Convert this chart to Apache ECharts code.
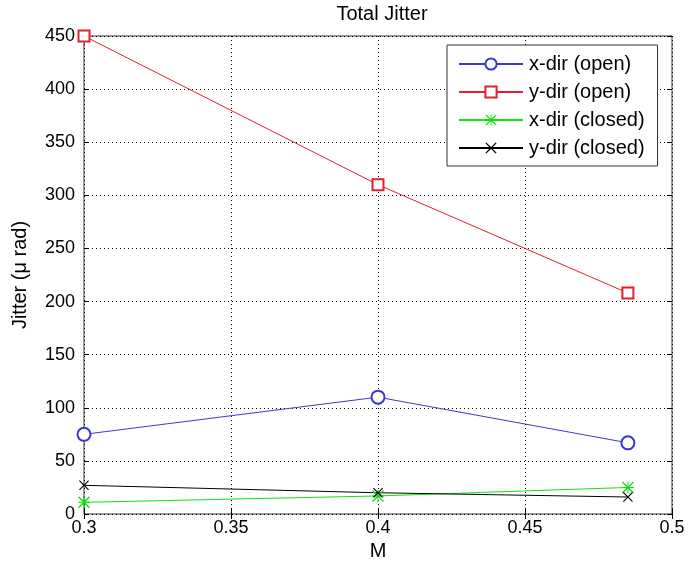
<!DOCTYPE html>
<html>
<head>
<meta charset="utf-8">
<script src="https://cdn.jsdelivr.net/npm/echarts@6/dist/echarts.min.js"></script>
<style>
  html, body { margin: 0; padding: 0; background: #fff; }
  #echarts { width: 691px; height: 571px; }
</style>
</head>
<body>
<div id="echarts"></div>
<script>
// M 取值 (x 轴)
var mValues = [0.3, 0.4, 0.485];
var xDirOpen = [75, 110, 67];
var yDirOpen = [450, 310, 208];
var xDirClosed = [11, 17, 25];
var yDirClosed = [27, 20, 16];
var seriesNames = ['x-dir (open)', 'y-dir (open)', 'x-dir (closed)', 'y-dir (closed)'];

var xMarker = 'path://M0,0.08 L0.08,0 L0.5,0.42 L0.92,0 L1,0.08 L0.58,0.5 L1,0.92 L0.92,1 L0.5,0.58 L0.08,1 L0,0.92 L0.42,0.5 Z';
var starMarker = xMarker + ' M0.46,0 L0.54,0 L0.54,1 L0.46,1 Z M0,0.46 L1,0.46 L1,0.54 L0,0.54 Z';

function pairs(vals) {
  return mValues.map(function (m, i) { return [m, vals[i]]; });
}

var myChart = echarts.init(document.getElementById('echarts'));
var font = 'Liberation Sans, Arial, sans-serif';

var option = {
  animation: false,
  backgroundColor: '#fff',
  title: {
    text: 'Total Jitter',
    left: 377,
    top: -1,
    textAlign: 'center',
    textStyle: { fontFamily: font, fontSize: 20, fontWeight: 'normal', color: '#000' }
  },
  grid: { left: 84, right: 19, top: 36, bottom: 57, show: true, borderColor: '#333', borderWidth: 1, backgroundColor: '#fff' },
  legend: {
    orient: 'vertical',
    left: 447,
    top: 45,
    padding: [9, 13, 8, 11],
    itemWidth: 64,
    itemHeight: 14,
    itemGap: 8,
    backgroundColor: '#fff',
    borderColor: '#333',
    borderWidth: 1,
    textStyle: { fontFamily: font, fontSize: 20, lineHeight: 20, color: '#000', padding: [0, 0, 0, 1] },
    data: seriesNames
  },
  xAxis: [
    {
      type: 'value',
      min: 0.3, max: 0.5, interval: 0.05,
      name: 'M',
      nameLocation: 'middle',
      nameGap: 27,
      nameTextStyle: { fontFamily: font, fontSize: 20, color: '#000' },
      axisLine: { show: false },
      axisTick: { inside: true, length: 5, lineStyle: { color: '#000' } },
      axisLabel: { fontFamily: font, fontSize: 18, color: '#000', margin: 5 },
      splitLine: { show: true, lineStyle: { type: [1, 3], color: '#000' } }
    },
    {
      type: 'value', position: 'top',
      min: 0.3, max: 0.5, interval: 0.05,
      axisLine: { show: false },
      axisTick: { inside: true, length: 5, lineStyle: { color: '#000' } },
      axisLabel: { show: false },
      splitLine: { show: false }
    }
  ],
  yAxis: [
    {
      type: 'value',
      min: 0, max: 450, interval: 50,
      name: 'Jitter (\u03bc rad)',
      nameLocation: 'middle',
      nameGap: 54,
      nameTextStyle: { fontFamily: font, fontSize: 20, color: '#000' },
      axisLine: { show: false },
      axisTick: { inside: true, length: 5, lineStyle: { color: '#000' } },
      axisLabel: { fontFamily: font, fontSize: 18, color: '#000', margin: 9 },
      splitLine: { show: true, lineStyle: { type: [1, 3], color: '#000' } }
    },
    {
      type: 'value', position: 'right',
      min: 0, max: 450, interval: 50,
      axisLine: { show: false },
      axisTick: { inside: true, length: 5, lineStyle: { color: '#000' } },
      axisLabel: { show: false },
      splitLine: { show: false }
    }
  ],
  series: [
    {
      name: seriesNames[0], type: 'line',
      data: pairs(xDirOpen),
      symbol: 'emptyCircle', symbolSize: 13,
      itemStyle: { color: '#3a3ad0', borderWidth: 1 },
      lineStyle: { color: '#3a3ad0', width: 1 }
    },
    {
      name: seriesNames[1], type: 'line',
      data: pairs(yDirOpen),
      symbol: 'emptyRect', symbolSize: 11,
      itemStyle: { color: '#e0202a', borderWidth: 1 },
      lineStyle: { color: '#e0202a', width: 1 }
    },
    {
      name: seriesNames[2], type: 'line',
      data: pairs(xDirClosed),
      symbol: starMarker, symbolSize: 12, symbolKeepAspect: true,
      itemStyle: { color: '#11e011', borderWidth: 0 },
      lineStyle: { color: '#11e011', width: 1 }
    },
    {
      name: seriesNames[3], type: 'line',
      data: pairs(yDirClosed),
      symbol: xMarker, symbolSize: 10, symbolKeepAspect: true,
      itemStyle: { color: '#000', borderWidth: 0 },
      lineStyle: { color: '#000', width: 1 }
    }
  ]
};

myChart.setOption(option);
</script>
</body>
</html>
